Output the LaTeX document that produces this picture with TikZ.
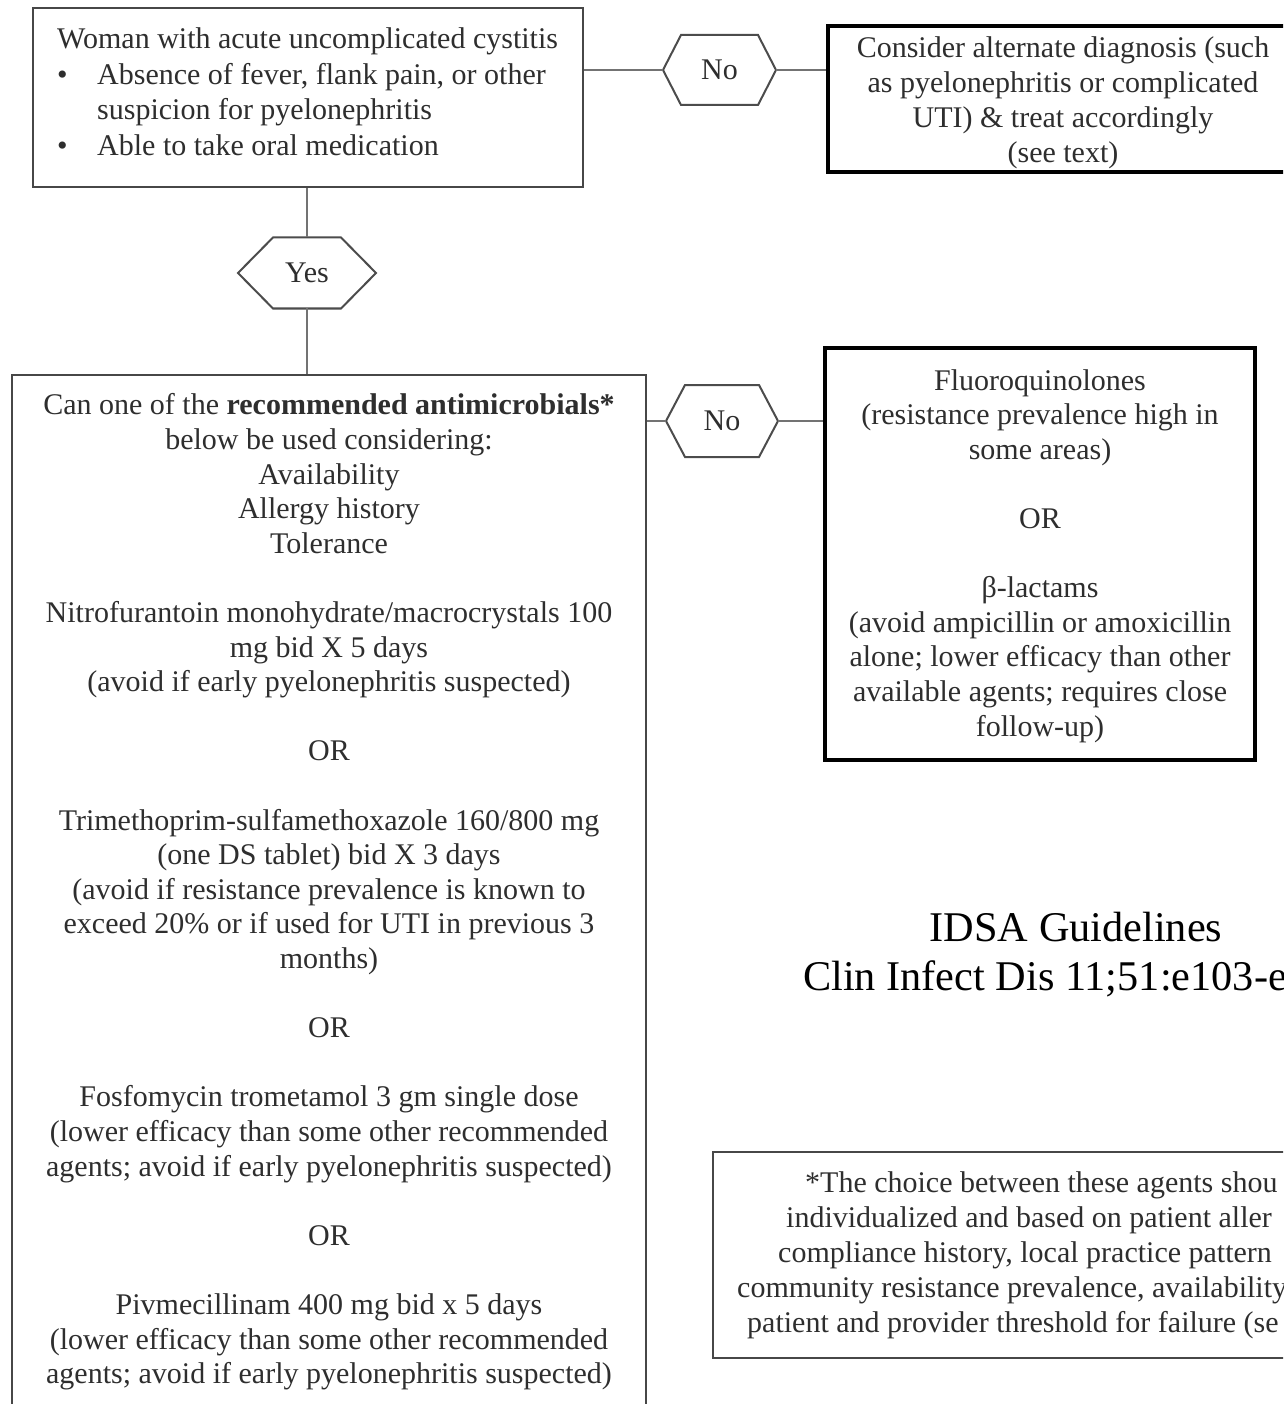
\documentclass[tikz,border=0pt]{standalone}
\usepackage{fontspec}
\setmainfont{Liberation Serif}
% name, cx, cy, half width, half height, inset, label
\newcommand\hexshape[7]{%
  \coordinate (#1-w) at ({#2-#4},#3);
  \coordinate (#1-e) at ({#2+#4},#3);
  \coordinate (#1-n) at (#2,{#3-#5});
  \coordinate (#1-s) at (#2,{#3+#5});
  \draw[hexline] (#1-w) -- ({#2-#4+#6},{#3-#5}) -- ({#2+#4-#6},{#3-#5}) -- (#1-e)
     -- ({#2+#4-#6},{#3+#5}) -- ({#2-#4+#6},{#3+#5}) -- cycle;
  \node[txt] (#1) at (#2,#3) {#7};
}
\begin{document}
\begin{tikzpicture}[x=1pt,y=-1pt,
  box/.style={draw=black!72, line width=2.2pt, inner sep=0pt},
  heavybox/.style={draw=black, line width=3.6pt, inner sep=0pt},
  txt/.style={font=\fontsize{30}{34.6}\selectfont, text=black!82, inner sep=0pt, align=center},
  conn/.style={draw=black!55, line width=2pt},
  hexline/.style={draw=black!70, line width=2pt, line join=miter},
  title/.style={font=\fontsize{42.3}{48}\selectfont, text=black, inner sep=0pt}]
\useasboundingbox (0,0) rectangle (1283,1404);
\clip (0,0) rectangle (1283,1404);
\fill[white] (0,0) rectangle (1283,1404);

% boxes
\node[box, minimum width=550pt, minimum height=179pt] (b1) at (308,97.5) {};
\node[heavybox, minimum width=470pt, minimum height=146pt] (b2) at (1063,99) {};
\node[box, minimum width=634pt, minimum height=1055pt] (b3) at (329,902.5) {};
\node[heavybox, minimum width=430pt, minimum height=412pt] (b4) at (1040,554) {};
\node[box, minimum width=587pt, minimum height=206pt] (fn) at (1006.5,1255) {};

% texts
\node[txt, align=left, anchor=north west, font=\fontsize{30}{35.5}\selectfont] (b1t) at (57,27.5)
  {Woman with acute uncomplicated cystitis\\
   \makebox[40pt][l]{\textbullet}Absence of fever, flank pain, or other\\
   \hspace*{40pt}suspicion for pyelonephritis\\
   \makebox[40pt][l]{\textbullet}Able to take oral medication};

\node[txt, anchor=north, font=\fontsize{30}{35}\selectfont] (b2t) at (1063,36.5)
  {Consider alternate diagnosis (such\\
   as pyelonephritis or complicated\\
   UTI) \& treat accordingly\\
   (see text)};

\node[txt, anchor=north] (b3t) at (329,393.5)
  {Can one of the \textbf{recommended antimicrobials*}\\
   below be used considering:\\
   Availability\\
   Allergy history\\
   Tolerance\\[34.6pt]
   Nitrofurantoin monohydrate/macrocrystals 100\\
   mg bid X 5 days\\
   (avoid if early pyelonephritis suspected)\\[34.6pt]
   OR\\[34.6pt]
   Trimethoprim-sulfamethoxazole 160/800 mg\\
   (one DS tablet) bid X 3 days\\
   (avoid if resistance prevalence is known to\\
   exceed 20\% or if used for UTI in previous 3\\
   months)\\[34.6pt]
   OR\\[34.6pt]
   Fosfomycin trometamol 3 gm single dose\\
   (lower efficacy than some other recommended\\
   agents; avoid if early pyelonephritis suspected)\\[34.6pt]
   OR\\[34.6pt]
   Pivmecillinam 400 mg bid x 5 days\\
   (lower efficacy than some other recommended\\
   agents; avoid if early pyelonephritis suspected)};

\node[txt, anchor=north] (b4t) at (1040,369)
  {Fluoroquinolones\\
   (resistance prevalence high in\\
   some areas)\\[34.6pt]
   OR\\[34.6pt]
   β-lactams\\
   (avoid ampicillin or amoxicillin\\
   alone; lower efficacy than other\\
   available agents; requires close\\
   follow-up)};

\node[txt, align=left, anchor=north west, font=\fontsize{30}{35}\selectfont] (fnt) at (737,1171.5)
  {\hspace*{68pt}*The choice between these agents shou\\
   \hspace*{49pt}individualized and based on patient aller\\
   \hspace*{41pt}compliance history, local practice pattern\\
   community resistance prevalence, availability\\
   \hspace*{10pt}patient and provider threshold for failure (se};

\node[title, anchor=base] (t1) at (1076,941) {IDSA Guidelines};
\node[title, anchor=base west] (t2) at (803,990) {Clin Infect Dis 11;51:e103-e};

% hexagons
\hexshape{no1}{719.5}{70}{56.5}{35}{18}{No}
\hexshape{yes}{307}{273}{69}{35.5}{35}{Yes}
\hexshape{no2}{722}{421}{56}{36}{19}{No}

% connectors
\draw[conn] (b1.east |- no1-w) -- (no1-w);
\draw[conn] (no1-e) -- (no1-e -| b2.west);
\draw[conn] (b1.south -| yes-n) -- (yes-n);
\draw[conn] (yes-s) -- (yes-s |- b3.north);
\draw[conn] (b3.east |- no2-w) -- (no2-w);
\draw[conn] (no2-e) -- (no2-e -| b4.west);
\end{tikzpicture}
\end{document}
